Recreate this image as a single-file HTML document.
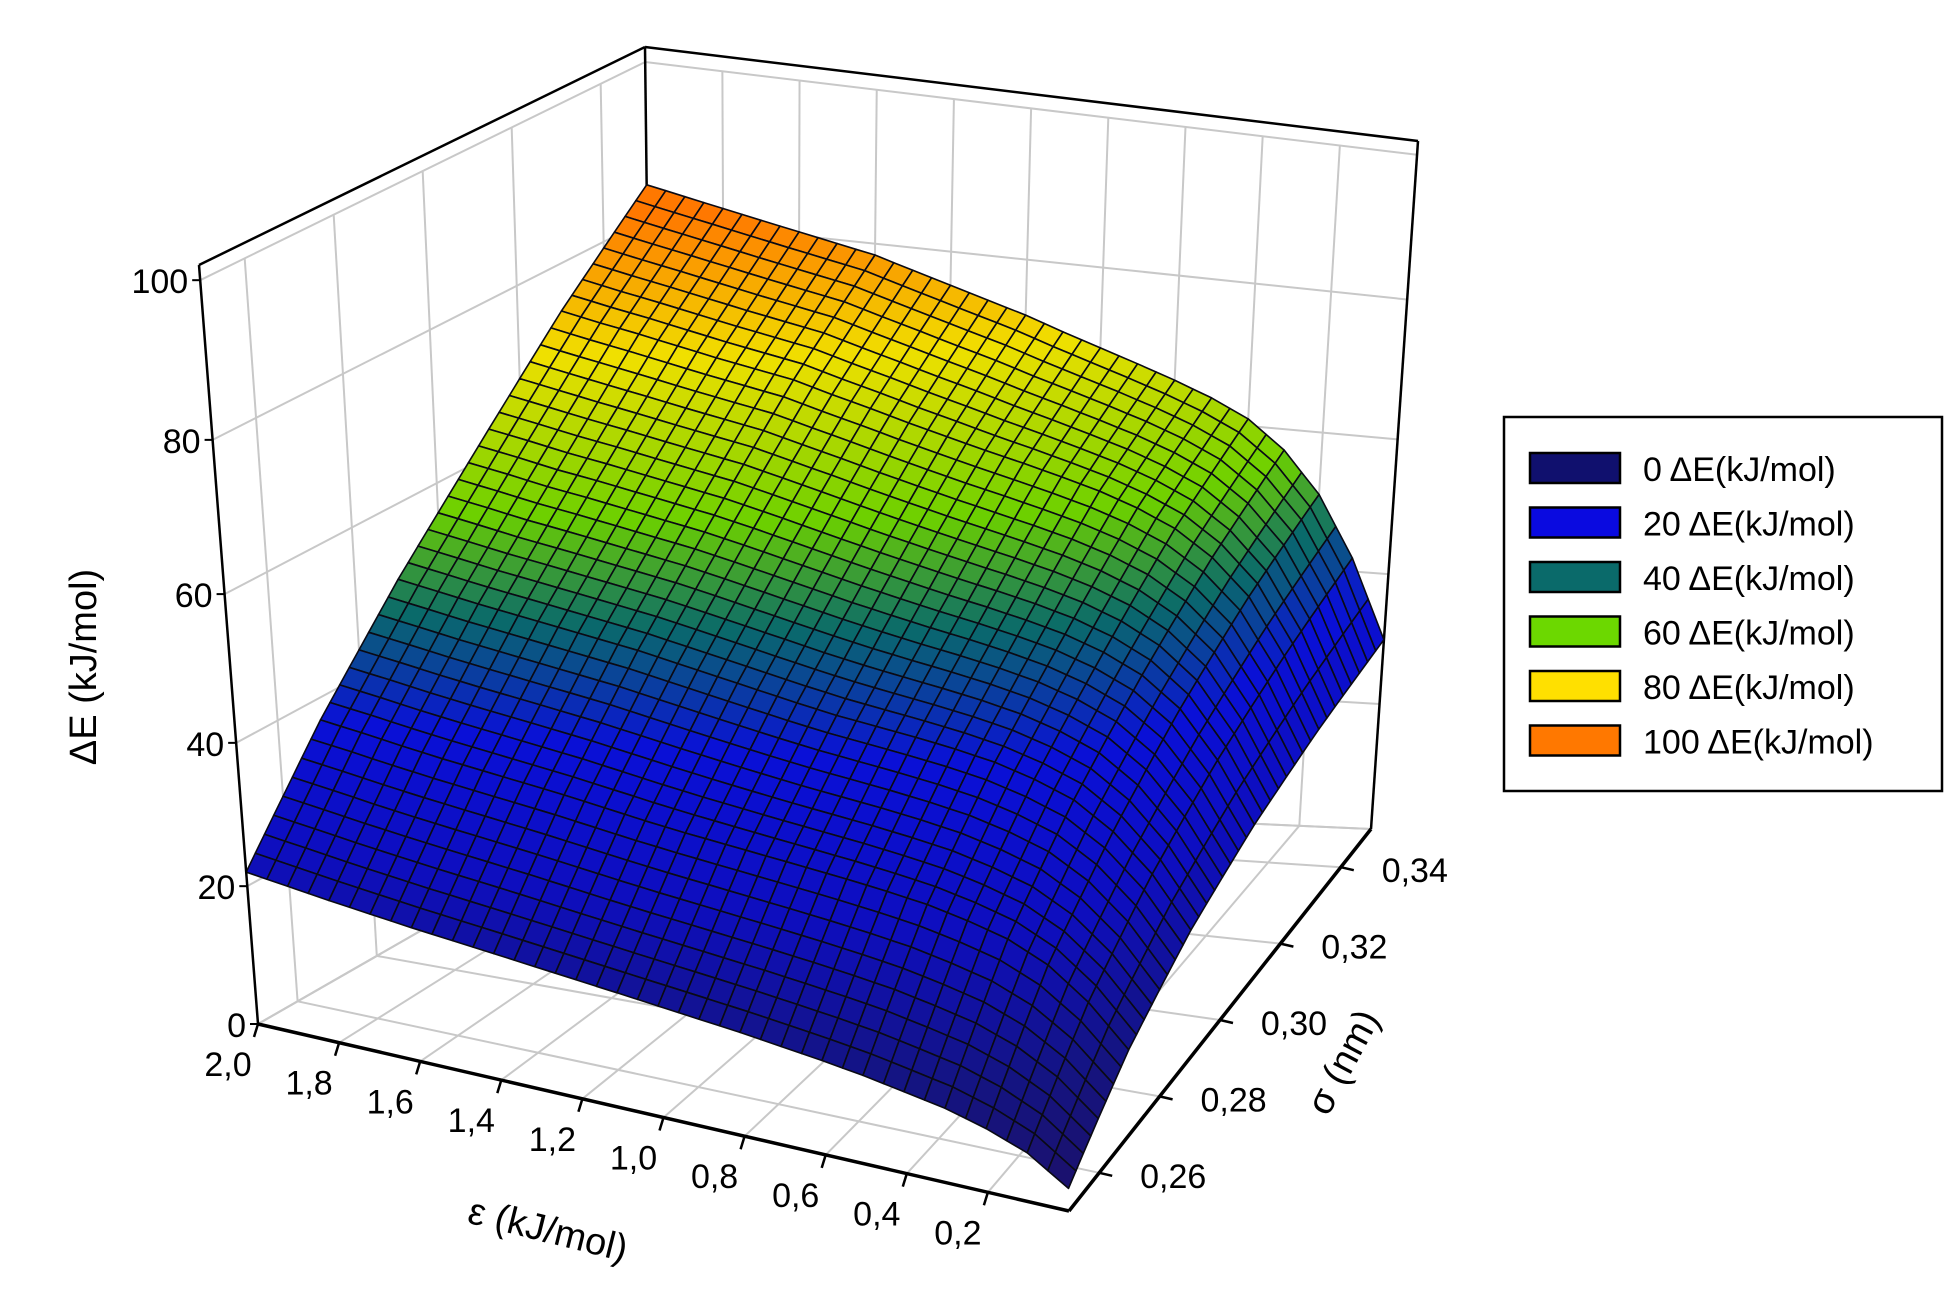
<!DOCTYPE html>
<html><head><meta charset="utf-8"><style>
html,body{margin:0;padding:0;background:#fff;}
svg{display:block;font-family:"Liberation Sans",sans-serif;}
</style></head>
<body>
<svg id="chart" width="1954" height="1291" viewBox="0 0 1954 1291" xmlns="http://www.w3.org/2000/svg">
<g id="walls"></g>
<g id="surface"></g>
<g id="axes"></g>
<g id="legend">
  <rect x="1504" y="417" width="438" height="374" fill="#fff" stroke="#000" stroke-width="2.5"/>
</g>
</svg>
<script>
// ---- data ----
const epsValues = [0.0,0.1,0.2,0.3,0.4,0.5,0.6,0.7,0.8,0.9,1.0,1.1,1.2,1.3,1.4,1.5,1.6,1.7,1.8,1.9,2.0];
const sigmaValues = [0.25,0.27,0.29,0.31,0.33,0.35];
// deltaE[sigmaIndex][epsIndex]
const deltaE = [
 [3,6.5,8.5,10,11,12,12.8,13.5,14.2,14.8,15.4,16,16.6,17.2,17.8,18.4,19,19.7,20.4,21.2,22],
 [11.6,17,21,23.5,25,26.2,27,27.7,28.3,28.9,29.5,30.1,30.8,31.6,32.4,33.1,33.8,34.5,35.3,36.2,37],
 [18.1,25,30,33.5,35.5,37,38,38.8,39.5,40.2,41.1,42.1,43.1,44.1,45.1,45.9,46.7,47.5,48.3,49.2,50.1],
 [23,31.5,38,42,44.5,46.3,47.6,48.7,49.7,50.8,51.9,53.1,54.3,55.5,56.6,57.5,58.4,59.3,60.1,61.1,62],
 [26.8,37,45,50,53.5,55.8,57.6,59,60.3,61.5,62.8,64.1,65.5,66.8,68.2,69.1,70,71,72,72.9,73.9],
 [30,42,51,57,61,63.5,65.5,67.3,69,70.7,72.5,74,75.5,77,78.5,79.5,80.5,81.5,82.5,83.5,84.5]
];
const zTicks = [0,20,40,60,80,100];
const zTickLabels = ["0","20","40","60","80","100"];
const epsTicks = [2.0,1.8,1.6,1.4,1.2,1.0,0.8,0.6,0.4,0.2];
const epsTickLabels = ["2,0","1,8","1,6","1,4","1,2","1,0","0,8","0,6","0,4","0,2"];
const sigmaTicks = [0.26,0.28,0.30,0.32,0.34];
const sigmaTickLabels = ["0,26","0,28","0,30","0,32","0,34"];
const legendLevels = ["0","20","40","60","80","100"];
const legendColors = ["#10106e","#0a0ae0","#0a6a6a","#6cd800","#ffe000","#ff7800"];

// ---- projection ----
const NS="http://www.w3.org/2000/svg";
const F0=[258,1024],F1=[1069,1211],F2=[1371,829],F3=[654,797];
const T0=[199,265],T1=[1049,368],T2=[1418,141],T3=[645,47];
function bil(P0,P1,P2,P3,a,b){
  const x=P1[0]*(1-a)*(1-b)+P0[0]*a*(1-b)+P2[0]*(1-a)*b+P3[0]*a*b;
  const y=P1[1]*(1-a)*(1-b)+P0[1]*a*(1-b)+P2[1]*(1-a)*b+P3[1]*a*b;
  return [x,y];
}
function tz(z){const u=z/100;return 0.89*u+0.09*u*u;}
function proj(e,s,z){
  const a=e/2,b=(s-0.25)/0.1,t=tz(z);
  const f=bil(F0,F1,F2,F3,a,b),T=bil(T0,T1,T2,T3,a,b);
  return [f[0]+t*(T[0]-f[0]),f[1]+t*(T[1]-f[1])];
}
function mk(tag,attrs,parent){const el=document.createElementNS(NS,tag);for(const k in attrs)el.setAttribute(k,attrs[k]);parent.appendChild(el);return el;}
function line(p,q,stroke,w,parent,name){
  const el=mk('line',{x1:p[0],y1:p[1],x2:q[0],y2:q[1],stroke:stroke,'stroke-width':w},parent);
  
  
  return el;
}

// ---- walls / grid ----
const walls=document.getElementById('walls');
const grid='#c8c8c8';
for(const e of epsTicks){ line(proj(e,0.25,0),proj(e,0.35,0),grid,2,walls,'floor-grid-eps'); line(proj(e,0.35,0),proj(e,0.35,100),grid,2,walls,'back-wall-grid-eps'); }
for(const s of sigmaTicks){ line(proj(0,s,0),proj(2,s,0),grid,2,walls,'floor-grid-sigma'); line(proj(2,s,0),proj(2,s,100),grid,2,walls,'left-wall-grid-sigma'); }
for(const z of zTicks){ line(proj(2,0.25,z),proj(2,0.35,z),grid,2,walls,'left-wall-grid-z'); line(proj(2,0.35,z),proj(0,0.35,z),grid,2,walls,'back-wall-grid-z'); }
line(F3,F2,grid,2,walls,'floor-back-edge');
line(F0,F3,grid,2,walls,'floor-left-edge');
line(T0,T3,'#000',2.5,walls,'left-wall-top-edge');
line(T3,T2,'#000',2.5,walls,'back-wall-top-edge');
line(T2,F2,'#000',2.5,walls,'back-wall-right-edge');
line(T3,F3,'#000',2.5,walls,'back-vertical-edge');

// ---- colors ----
const stops=[[0,[30,16,100]],[12,[20,20,130]],[24,[14,14,190]],[37,[10,16,215]],[47,[10,106,106]],[56,[108,208,0]],[70,[240,224,0]],[82,[255,120,0]]];
function color(z){
  if(z<=stops[0][0])return 'rgb('+stops[0][1]+')';
  for(let i=1;i<stops.length;i++){if(z<=stops[i][0]){const f=(z-stops[i-1][0])/(stops[i][0]-stops[i-1][0]);const c=stops[i-1][1].map((v,k)=>Math.round(v+f*(stops[i][1][k]-v)));return 'rgb('+c+')';}}
  return 'rgb('+stops[stops.length-1][1]+')';
}

// ---- surface ----
const surf=document.getElementById('surface');
const SE=2,SS=8;
function val(i,j,fe,fs){
  const z00=deltaE[j][i],z10=deltaE[j][i+1],z01=deltaE[j+1][i],z11=deltaE[j+1][i+1];
  return z00*(1-fe)*(1-fs)+z10*fe*(1-fs)+z01*(1-fe)*fs+z11*fe*fs;
}
for(let j=sigmaValues.length-2;j>=0;j--){
  for(let ss=SS-1;ss>=0;ss--){
    for(let i=epsValues.length-2;i>=0;i--){
      for(let se=SE-1;se>=0;se--){
        const e0=epsValues[i],e1=epsValues[i+1],s0=sigmaValues[j],s1=sigmaValues[j+1];
        const fa=se/SE,fb=(se+1)/SE,ga=ss/SS,gb=(ss+1)/SS;
        const c=[[fa,ga],[fb,ga],[fb,gb],[fa,gb]];
        let zs=0;
        const pts=c.map(([fe,fs])=>{const z=val(i,j,fe,fs);zs+=z;return proj(e0+(e1-e0)*fe,s0+(s1-s0)*fs,z);});
        const p=mk('polygon',{points:pts.map(q=>q[0].toFixed(1)+','+q[1].toFixed(1)).join(' '),fill:color(zs/4),stroke:'#0a0a14','stroke-width':1.6,'stroke-linejoin':'round'},surf);
        
        
      }
    }
  }
}

// ---- axes ----
const axes=document.getElementById('axes');
line(F0,T0,'#000',2.5,axes,'z-axis-line');
line(F0,F1,'#000',3.5,axes,'eps-axis-line');
line(F1,F2,'#000',3.5,axes,'sigma-axis-line');
function text(x,y,str,attrs,name){
  const el=mk('text',Object.assign({x:x,y:y,'font-size':34,fill:'#000'},attrs||{}),axes);
  el.textContent=str;
  
  
  return el;
}
zTicks.forEach((z,k)=>{
  const p=proj(2,0.25,z);
  line(p,[p[0]-8,p[1]],'#000',2,axes,'z-tick');
  text(p[0]-12,p[1]+13,zTickLabels[k],{'text-anchor':'end'},'z-tick-label');
});
epsTicks.forEach((e,k)=>{
  const p=proj(e,0.25,0);
  line(p,[p[0]-4,p[1]+13],'#000',2.5,axes,'eps-tick');
  text(p[0]-30,p[1]+52,epsTickLabels[k],{'text-anchor':'middle'},'eps-tick-label');
});
sigmaTicks.forEach((s,k)=>{
  const p=proj(0,s,0);
  line(p,[p[0]+13,p[1]+3],'#000',2.5,axes,'sigma-tick');
  text(p[0]+74,p[1]+15,sigmaTickLabels[k],{'text-anchor':'middle'},'sigma-tick-label');
});
text(0,0,'\u0394E (kJ/mol)',{'text-anchor':'middle','font-size':38,transform:'translate(96,667) rotate(-90)'},'z-axis-title');
text(0,0,'\u03B5 (kJ/mol)',{'text-anchor':'middle','font-size':38,transform:'translate(545,1242) rotate(14)'},'eps-axis-title');
text(0,0,'\u03C3 (nm)',{'text-anchor':'middle','font-size':38,transform:'translate(1354,1068) rotate(-62)'},'sigma-axis-title');

// ---- legend ----
const leg=document.getElementById('legend');
legendLevels.forEach((lv,k)=>{
  const y=453+k*54.5;
  const r=mk('rect',{x:1530,y:y,width:90,height:30,fill:legendColors[k],stroke:'#000','stroke-width':2.5},leg);
  
  
  const t=mk('text',{x:1643,y:y+28,'font-size':34,fill:'#000'},leg);
  t.textContent=lv+' \u0394E(kJ/mol)';
  
  
});
</script>
</body></html>
